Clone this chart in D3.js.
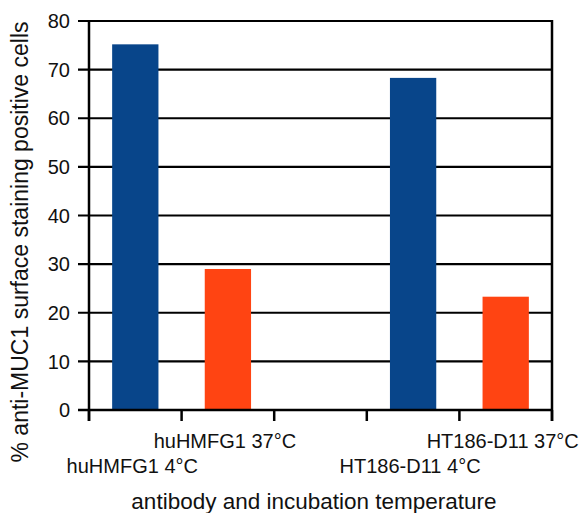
<!DOCTYPE html>
<html><head><meta charset="utf-8">
<script src="https://cdn.jsdelivr.net/npm/d3@7"></script>
<style>body{margin:0;background:#fff}svg{display:block}text{font-family:Arial,"Liberation Sans",sans-serif;fill:#111}</style>
</head><body>
<script>
const categories = ["huHMFG1 4°C", "huHMFG1 37°C", "", "HT186-D11 4°C", "HT186-D11 37°C"];
const values = [75.2, 29.0, null, 68.3, 23.3];
const barColors = ["#08458A", "#FF4412", null, "#08458A", "#FF4412"];
const yTicks = [0, 10, 20, 30, 40, 50, 60, 70, 80];
const yTitle = "% anti-MUC1 surface staining positive cells";
const xTitle = "antibody and incubation temperature";

const W = 583, H = 513;
const m = {left: 89, top: 21, right: 31, bottom: 103};
const svg = d3.select("body").append("svg").attr("width", W).attr("height", H);

const keys = categories.map((c, i) => i);
const x = d3.scaleBand().domain(keys).range([m.left, W - m.right]).paddingInner(0.5).paddingOuter(0.25);
const y = d3.scaleLinear().domain([0, 80]).range([H - m.bottom, m.top]);
const x0 = x.range()[0], x1 = x.range()[1], step = x.step();

// gridlines + y ticks
const g = svg.append("g");
g.selectAll("line.grid").data(yTicks).join("line")
  .attr("x1", x0 - 11).attr("x2", x1)
  .attr("y1", d => y(d)).attr("y2", d => y(d))
  .attr("stroke", "#000").attr("stroke-width", 2.2);
g.selectAll("text.yt").data(yTicks).join("text")
  .attr("x", x0 - 19).attr("y", d => y(d)).attr("dy", "0.36em")
  .attr("text-anchor", "end").attr("font-size", 20).text(d => d);

// bars
svg.append("g").selectAll("rect").data(keys.filter(i => values[i] != null)).join("rect")
  .attr("x", i => x(i)).attr("width", x.bandwidth())
  .attr("y", i => y(values[i])).attr("height", i => y(0) - y(values[i]))
  .attr("fill", i => barColors[i]);

// redraw zero line over bars
svg.append("line").attr("x1", x0 - 11).attr("x2", x1).attr("y1", y(0)).attr("y2", y(0))
  .attr("stroke", "#000").attr("stroke-width", 2.5);
// axes verticals
svg.append("line").attr("x1", x0).attr("x2", x0).attr("y1", y(80) - 1).attr("y2", y(0) + 11)
  .attr("stroke", "#000").attr("stroke-width", 2.5);
svg.append("line").attr("x1", x1).attr("x2", x1).attr("y1", y(80) - 1).attr("y2", y(0) + 11)
  .attr("stroke", "#000").attr("stroke-width", 2.5);
// x ticks at band boundaries
const bounds = d3.range(categories.length + 1).map(i => x0 + i * step);
svg.selectAll("line.xt").data(bounds).join("line")
  .attr("x1", d => d).attr("x2", d => d).attr("y1", y(0)).attr("y2", y(0) + 11)
  .attr("stroke", "#000").attr("stroke-width", 2.5);

// category labels (staggered)
svg.append("g").selectAll("text").data(keys.filter(i => categories[i])).join("text")
  .attr("x", i => x(i) + x.bandwidth() / 2 - 3)
  .attr("y", i => categories[i].includes("37") ? 448 : 473)
  .attr("text-anchor", "middle").attr("font-size", 20).text(i => categories[i]);

// titles
svg.append("text").attr("transform", "translate(28,242) rotate(-90)")
  .attr("text-anchor", "middle").attr("font-size", 23).text(yTitle);
svg.append("text").attr("x", 314).attr("y", 509)
  .attr("text-anchor", "middle").attr("font-size", 22.5).text(xTitle);
</script>
</body></html>
